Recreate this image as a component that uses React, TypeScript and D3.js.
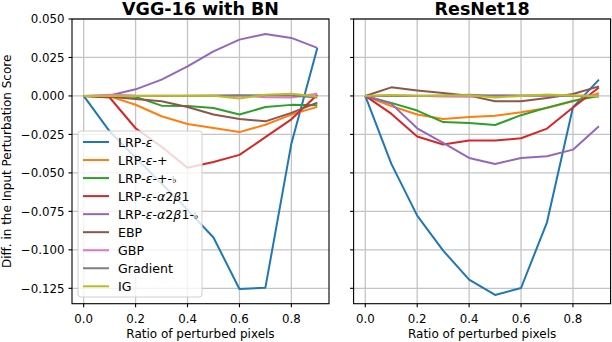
import React from 'react';
import * as d3 from 'd3';

const ratios = [0, 0.1, 0.2, 0.3, 0.4, 0.5, 0.6, 0.7, 0.8, 0.9];
const methods = ['LRP-ε', 'LRP-ε-+', 'LRP-ε-+-♭', 'LRP-ε-α2β1', 'LRP-ε-α2β1-♭', 'EBP', 'GBP', 'Gradient', 'IG'];
const panelTitles = ['VGG-16 with BN', 'ResNet18'];

const vggValues = [
  [0, -0.023, -0.04, -0.057, -0.074, -0.092, -0.1254, -0.1246, -0.031, 0.0312],
  [0, -0.0003, -0.0057, -0.0132, -0.0182, -0.0208, -0.0235, -0.0187, -0.0121, -0.0071],
  [0, 0, -0.0006, -0.0063, -0.0065, -0.0078, -0.0121, -0.0072, -0.0058, -0.006],
  [0, -0.001, -0.021, -0.033, -0.0466, -0.0429, -0.0383, -0.0268, -0.0152, 0.0008],
  [0, 0.0003, 0.0043, 0.0106, 0.0192, 0.029, 0.0366, 0.0403, 0.0377, 0.0312],
  [0, -0.0005, -0.002, -0.0035, -0.0072, -0.0121, -0.015, -0.0165, -0.011, -0.0043],
  [0, 0.0008, 0.0003, 0.0002, 0, 0, 0.0003, -0.0008, -0.001, 0.0015],
  [0, 0, 0, 0, 0.0002, 0.0003, 0.0005, 0.0004, 0.0003, -0.001],
  [0, 0, 0, 0.0002, 0.0001, 0.0002, -0.0017, 0.0008, 0.0015, -0.0003],
];

const resnetValues = [
  [0, -0.044, -0.0778, -0.1005, -0.1194, -0.1293, -0.1248, -0.0821, -0.0074, 0.0106],
  [0, -0.0065, -0.0121, -0.015, -0.0137, -0.0128, -0.0106, -0.0078, -0.0035, 0.0018],
  [0, -0.0045, -0.0095, -0.017, -0.0176, -0.0189, -0.0125, -0.0076, -0.0032, 0],
  [0, -0.0115, -0.0264, -0.0316, -0.0289, -0.029, -0.0275, -0.0212, -0.0075, 0.0055],
  [0, -0.005, -0.021, -0.0305, -0.0403, -0.0442, -0.0403, -0.0392, -0.0349, -0.0197],
  [0, 0.0056, 0.0036, 0.0019, 0.0002, -0.0035, -0.0035, -0.0013, 0.0013, 0.0062],
  [0, 0.0003, 0.0001, -0.0003, -0.0005, 0.0005, 0.0003, 0.0002, 0.0002, 0.0003],
  [0, 0.0002, 0, 0.0003, 0.0007, 0.0001, 0.0002, 0.0004, 0, -0.0004],
  [0, 0.0006, 0.0001, 0.0002, 0.0004, -0.001, 0, 0.001, 0.0003, -0.0002],
];

const xTicks = [0, 0.2, 0.4, 0.6, 0.8];
const yTicks = [0.05, 0.025, 0, -0.025, -0.05, -0.075, -0.1, -0.125];

const colors = d3.schemeCategory10;
const font = 'DejaVu Sans, sans-serif';

// greek letters italic, flat sign small (like mathtext)
const renderLabel = (label: string) =>
  Array.from(label).map((ch, i) => {
    if (/[εαβ]/.test(ch)) return <tspan key={i} fontStyle="italic">{ch}</tspan>;
    if (ch === '♭') return <tspan key={i} fontSize={9.5}>{ch}</tspan>;
    return <tspan key={i}>{ch}</tspan>;
  });

const Panel = ({ left, values, title, showY }: { left: number; values: number[][]; title: string; showY: boolean }) => {
  const width = 257;
  const top = 19;
  const bottom = 303.7;

  const x = d3.scaleLinear().domain([-0.045, 0.945]).range([left, left + width]);
  const y = d3.scaleLinear().domain([-0.135, 0.05]).range([bottom, top]);
  const line = d3
    .line<number>()
    .x((_, i) => x(ratios[i]))
    .y(d => y(d));
  const fmt = d3.format('.3f');

  return (
    <g>
      {xTicks.map(t => (
        <line key={'gx' + t} x1={x(t)} x2={x(t)} y1={top} y2={bottom} stroke="#c4c4c4" strokeWidth={1.3} />
      ))}
      {yTicks.map(t => (
        <line key={'gy' + t} x1={left} x2={left + width} y1={y(t)} y2={y(t)} stroke="#c4c4c4" strokeWidth={1.3} />
      ))}
      {values.map((v, i) => (
        <path key={i} d={line(v) || ''} fill="none" stroke={colors[i]} strokeWidth={2} strokeLinejoin="round" />
      ))}
      <rect x={left} y={top} width={width} height={bottom - top} fill="none" stroke="#000" strokeWidth={1.1} />
      {xTicks.map(t => (
        <g key={'tx' + t}>
          <line x1={x(t)} x2={x(t)} y1={bottom} y2={bottom + 3.5} stroke="#000" strokeWidth={1.1} />
          <text x={x(t)} y={323} fontSize={11.8} textAnchor="middle" fontFamily={font}>
            {t.toFixed(1)}
          </text>
        </g>
      ))}
      {yTicks.map(t => (
        <g key={'ty' + t}>
          <line x1={left - 3.5} x2={left} y1={y(t)} y2={y(t)} stroke="#000" strokeWidth={1.1} />
          {showY && (
            <text x={left - 7.5} y={y(t)} dy="0.36em" fontSize={11.8} textAnchor="end" fontFamily={font}>
              {fmt(t)}
            </text>
          )}
        </g>
      ))}
      <text x={left + width / 2} y={14.5} fontSize={17.5} fontWeight="bold" textAnchor="middle" fontFamily={font}>
        {title}
      </text>
      <text x={left + width / 2} y={338} fontSize={12} textAnchor="middle" fontFamily={font}>
        Ratio of perturbed pixels
      </text>
    </g>
  );
};

export default function App() {
  const legendX = 78;
  const legendY = 131;
  const rowY = d3.scaleLinear().domain([0, 8]).range([142, 286.3]);

  return (
    <svg width={612} height={342} style={{ position: 'absolute', left: 0, top: 0 }}>
      <rect width={612} height={342} fill="#fff" />
      <Panel left={72} values={vggValues} title={panelTitles[0]} showY={true} />
      <Panel left={353.6} values={resnetValues} title={panelTitles[1]} showY={false} />
      <text
        transform="translate(11,161.4) rotate(-90)"
        fontSize={12}
        textAnchor="middle"
        fontFamily={font}
      >
        Diff. in the Input Perturbation Score
      </text>
      <g>
        <rect
          x={legendX}
          y={legendY}
          width={124}
          height={166}
          rx={3}
          fill="#fff"
          fillOpacity={0.8}
          stroke="#d0d0d0"
          strokeWidth={1}
        />
        {methods.map((m, i) => (
          <g key={m}>
            <line x1={83} x2={109} y1={rowY(i)} y2={rowY(i)} stroke={colors[i]} strokeWidth={2} />
            <text x={118} y={rowY(i)} dy="0.36em" fontSize={12.6} fontFamily={font}>
              {renderLabel(m)}
            </text>
          </g>
        ))}
      </g>
    </svg>
  );
}
